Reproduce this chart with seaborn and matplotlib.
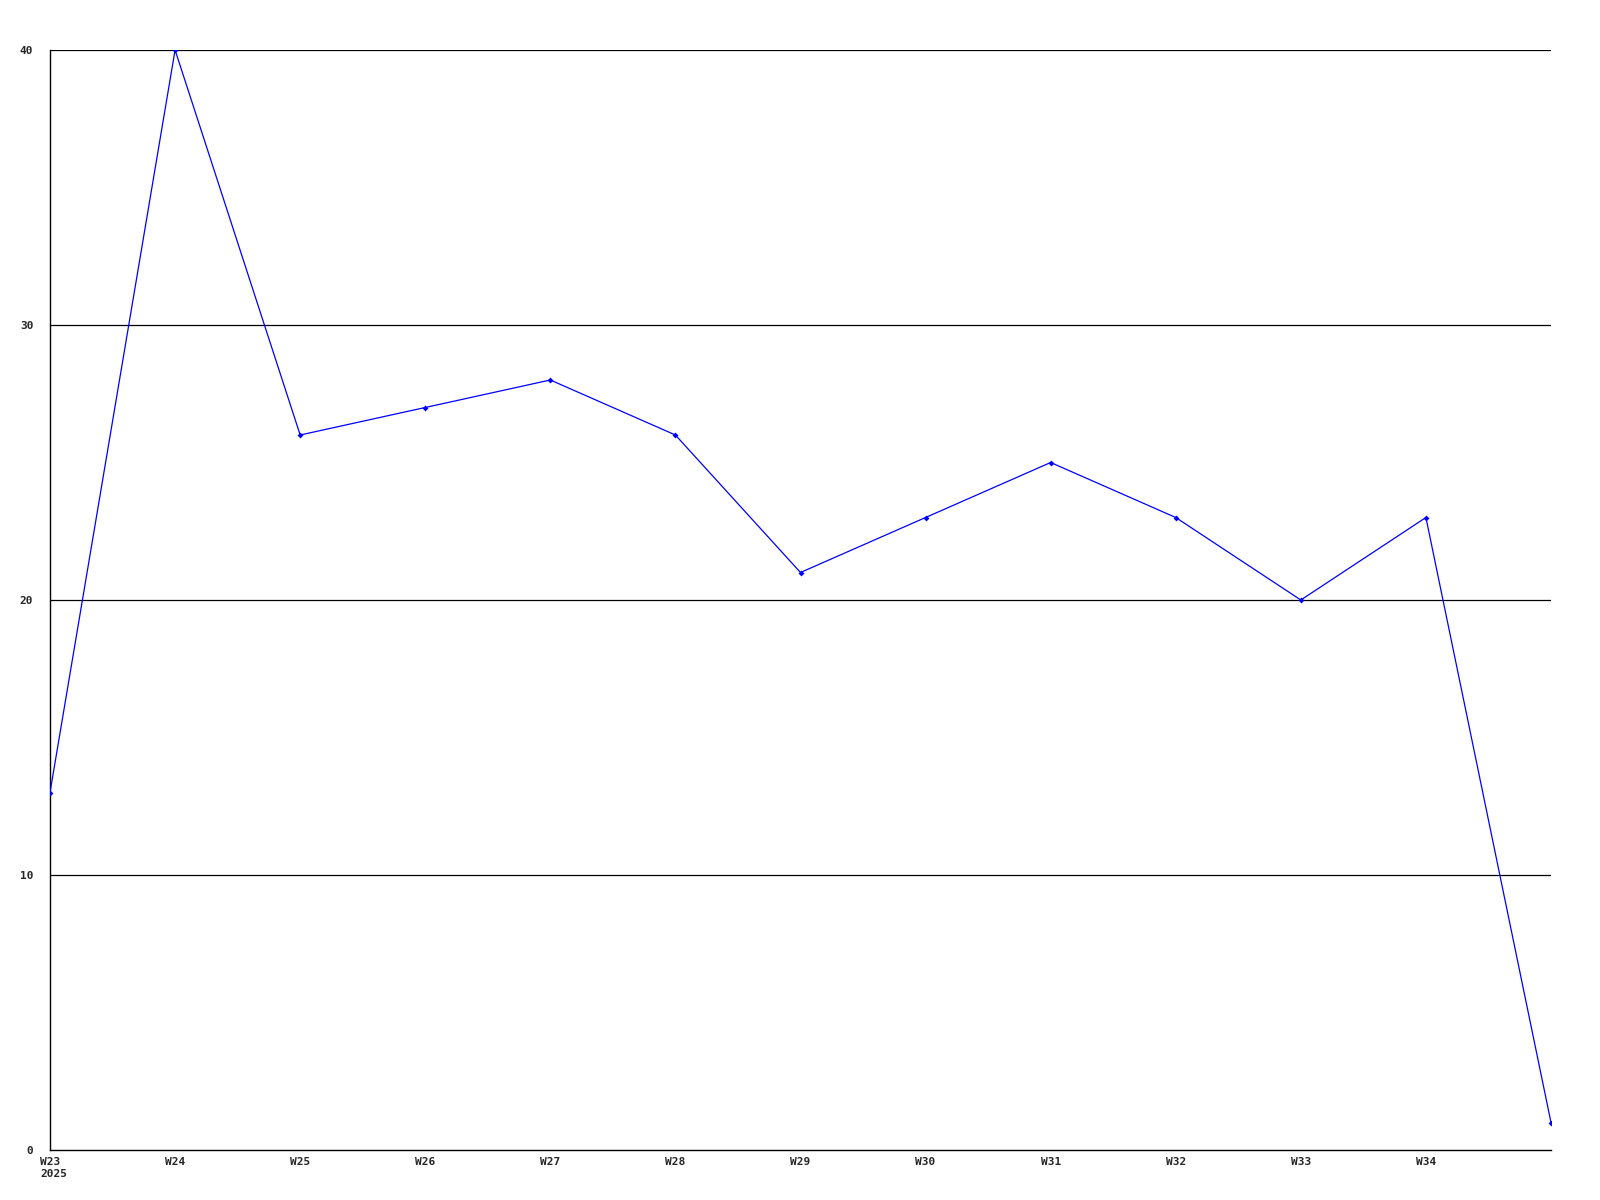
import pandas as pd
import matplotlib
matplotlib.use("Agg")
import matplotlib.pyplot as plt
import matplotlib.transforms as mtransforms
import seaborn as sns

weeks = ["W23", "W24", "W25", "W26", "W27", "W28", "W29", "W30", "W31", "W32", "W33", "W34", "W35"]
counts = [13, 40, 26, 27, 28, 26, 21, 23, 25, 23, 20, 23, 1]
tick_labels = ["W23\n2025", "W24", "W25", "W26", "W27", "W28", "W29", "W30", "W31", "W32", "W33", "W34"]
y_ticks = [0, 10, 20, 30, 40]

df = pd.DataFrame({"pos": range(len(weeks)), "count": counts})

sns.set_style("white")
plt.rcParams["font.family"] = ["DejaVu Sans Mono"]

fig = plt.figure(figsize=(16, 12), dpi=100)
ax = fig.add_axes([50 / 1600, 50 / 1200, 1501 / 1600, 1100 / 1200])

# horizontal grid lines
for y in y_ticks[1:]:
    ax.axhline(y, color="black", lw=0.9, zorder=1)

sns.lineplot(data=df, x="pos", y="count", ax=ax, color="#0000ff", lw=0.9,
             marker="D", markersize=3, markeredgewidth=0, zorder=3)

ax.set_xlim(0, len(weeks) - 1)
ax.set_ylim(0, 40)
ax.set_xticks(range(len(tick_labels)))
ax.set_xticklabels(tick_labels, fontsize=8, fontweight="bold", linespacing=1.2)
ax.set_yticks(y_ticks)
ax.set_yticklabels([str(v) for v in y_ticks], fontsize=8, fontweight="bold")
ax.tick_params(axis="both", length=0)
ax.tick_params(axis="y", pad=12)
ax.tick_params(axis="x", pad=5)
ax.set_xlabel("")
ax.set_ylabel("")

# first label: W23 centred on its tick, 2025 left-aligned under it
first = ax.get_xticklabels()[0]
first.set_horizontalalignment("left")
first.set_multialignment("left")
first.set_transform(first.get_transform() +
                    mtransforms.ScaledTranslation(-0.10, 0, fig.dpi_scale_trans))

for s in ["top", "right"]:
    ax.spines[s].set_visible(False)
for s in ["left", "bottom"]:
    ax.spines[s].set_color("black")
    ax.spines[s].set_linewidth(1.0)

fig.savefig("out.png", dpi=100, facecolor="white")
